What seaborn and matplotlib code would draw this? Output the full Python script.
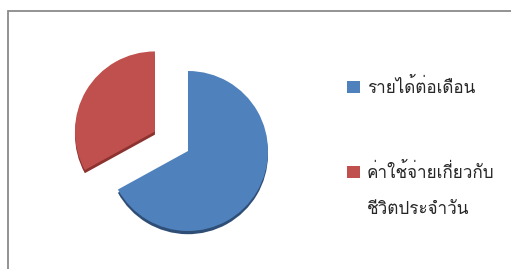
import matplotlib
matplotlib.use("Agg")
import matplotlib.pyplot as plt
import seaborn as sns
from matplotlib.patches import Patch, Rectangle

# data
labels = ["รายได้ต่อเดือน", "ค่าใช้จ่ายเกี่ยวกับ"]
label_second_line = "ชีวิตประจำวัน"
shares = [67, 33]

sns.set_style("white")
plt.rcParams["font.family"] = ["Loma", "Noto Sans Thai Looped", "DejaVu Sans"]

colors = ["#4F81BD", "#C0504D"]
rim_colors = ["#2E4E76", "#8C3330"]
explode = [0, 0.48]

fig = plt.figure(figsize=(5.11, 2.69), dpi=100)

# chart frame (cut off at right and bottom like the reference)
fig.patches.append(Rectangle((8 / 511, -0.1), 1.2, 1 - 11 / 269 + 0.1,
                             transform=fig.transFigure, fill=False,
                             edgecolor="#8A8A8A", linewidth=1.3))

ax = fig.add_axes([88 / 511, 18 / 269, 200 / 511, 200 / 269])

# darker copy slightly lower gives the 3D rim
ax.pie(shares, colors=rim_colors, startangle=90, counterclock=False,
       explode=explode, center=(0, -0.04), wedgeprops={"linewidth": 0})
wedges, _ = ax.pie(shares, colors=colors, startangle=90, counterclock=False,
                   explode=explode, wedgeprops={"linewidth": 0})
ax.set_xlim(-1.25, 1.25)
ax.set_ylim(-1.25, 1.25)
ax.set_aspect("equal")
ax.axis("off")

handles = [Patch(facecolor=c, edgecolor="none") for c in colors]
leg = fig.legend(handles, labels, loc="upper left",
                 bbox_to_anchor=(347 / 511, 1 - 78 / 269),
                 bbox_transform=fig.transFigure, frameon=False,
                 fontsize=12.3, handlelength=0.75, handleheight=0.75,
                 handletextpad=0.4, labelspacing=3.85,
                 borderpad=0, borderaxespad=0)

second = leg.get_texts()[1]
fig.canvas.draw()
ax.annotate(label_second_line, xy=(0, 0.5), xycoords=second,
            xytext=(0, -38), textcoords="offset pixels",
            va="center", ha="left", fontsize=12.3, annotation_clip=False)

fig.savefig("out.png", dpi=100)
